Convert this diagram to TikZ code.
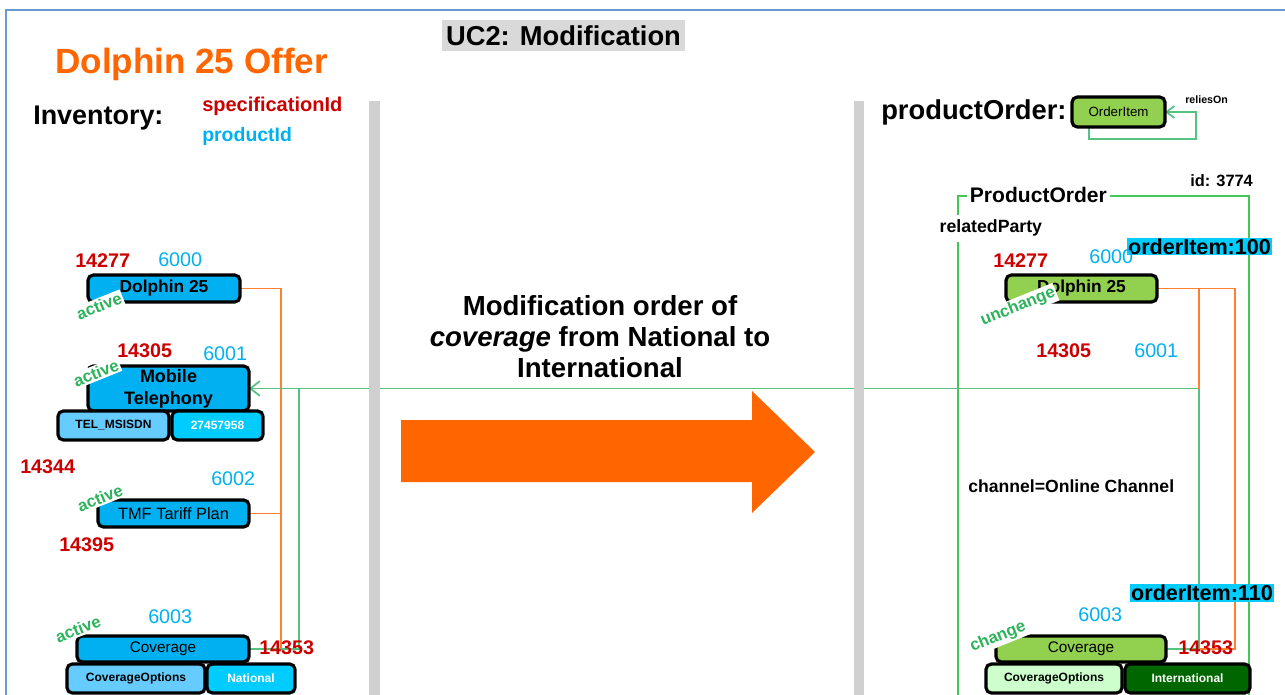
\documentclass[tikz,border=0pt]{standalone}
\usepackage{fontspec}
\setmainfont{Liberation Sans}
\usetikzlibrary{arrows.meta}
\definecolor{bordercol}{HTML}{6A98D2}
\definecolor{titlegray}{HTML}{D9D9D9}
\definecolor{offerorange}{HTML}{FF6600}
\definecolor{numred}{HTML}{CC0000}
\definecolor{numcyan}{HTML}{00B0F0}
\definecolor{boxblue}{HTML}{00B0F0}
\definecolor{lightblue}{HTML}{66CCFF}
\definecolor{brightcyan}{HTML}{00CCFF}
\definecolor{itemgreen}{HTML}{92D050}
\definecolor{palegreen}{HTML}{CCFFCC}
\definecolor{darkgreen}{HTML}{006600}
\definecolor{statgreen}{HTML}{2DB35C}
\definecolor{conngreen}{HTML}{55C280}
\definecolor{framegreen}{HTML}{44C755}
\definecolor{connorange}{HTML}{FF8030}
\definecolor{bargray}{HTML}{D0D0D0}
\newcommand\fsz[2]{\fontsize{#1}{#2}\selectfont}
\pgfdeclarelayer{bg}
\pgfsetlayers{bg,main}
\tikzset{
  box/.style={draw=black, line width=2.4pt, rounded corners=4pt, inner sep=1pt, outer sep=0pt, align=center},
  bluebox/.style={box, fill=boxblue},
  greenbox/.style={box, fill=itemgreen},
  lbl/.style={inner sep=0pt, anchor=base west},
  rednum/.style={lbl, font=\fsz{14.8pt}{17pt}\bfseries, text=numred},
  cyannum/.style={lbl, font=\fsz{14.8pt}{17pt}, text=numcyan},
  stat/.style={font=\fsz{12.5pt}{14pt}\bfseries, text=statgreen, fill=white, rotate=22, inner sep=1.2pt},
  oconn/.style={draw=connorange, line width=1pt},
  gconn/.style={draw=conngreen, line width=1.3pt},
  itemtag/.style={fill=brightcyan, inner xsep=1pt, inner ysep=0.6pt, font=\fsz{16.2pt}{18pt}\bfseries},
  small/.style={font=\fsz{9pt}{10pt}\bfseries}
}
\begin{document}
\begin{tikzpicture}[x=0.75pt,y=-0.75pt]
\useasboundingbox (0,0) rectangle (1285,695);
% outer frame
\draw[bordercol, line width=1.2pt] (6,700) -- (6,10) -- (1290,10);

% titles
\node[fill=titlegray, minimum width=182.25pt, minimum height=23.25pt, inner sep=0pt, font=\fsz{20.5pt}{24pt}\bfseries] (uc2) at (563.5,35.5) {UC2: Modification};
\node[lbl, text=offerorange, font=\fsz{26.3pt}{30pt}\bfseries] (offer) at (55,74) {Dolphin 25 Offer};
\node[lbl, font=\fsz{20.2pt}{24pt}\bfseries] (inv) at (33,125) {Inventory:};
\node[lbl, text=numred, font=\fsz{15pt}{17pt}\bfseries] (specid) at (202,112) {specificationId};
\node[lbl, text=numcyan, font=\fsz{14.6pt}{17pt}\bfseries] (prodid) at (202,142) {productId};
\node[lbl, font=\fsz{20.5pt}{24pt}\bfseries] (porder) at (881,120) {productOrder:};

% ---------- left inventory ----------
\node[bluebox, minimum width=114pt, minimum height=20.25pt, font=\fsz{13pt}{15pt}\bfseries] (d25L) at (164,288.5) {Dolphin 25};
\node[bluebox, minimum width=120.75pt, minimum height=33.75pt, font=\fsz{13.5pt}{16.5pt}\bfseries] (mobL) at (168.5,388.5) {Mobile\\Telephony};
\node[box, fill=lightblue, minimum width=83.25pt, minimum height=21.75pt, small] (telL) at (113.5,425.5) {TEL\_MSISDN};
\node[box, fill=brightcyan, text=white, minimum width=68.25pt, minimum height=21.75pt, small] (numL) at (217.5,425.5) {27457958};
\node[bluebox, minimum width=113.25pt, minimum height=20.25pt, font=\fsz{12.3pt}{14pt}] (tmfL) at (173.5,513.5) {TMF Tariff Plan};
\node[bluebox, minimum width=129pt, minimum height=19.5pt, font=\fsz{11.5pt}{13pt}] (covL) at (163,649) {Coverage};
\node[box, fill=lightblue, minimum width=103.5pt, minimum height=21.75pt, small] (coL) at (136,678.5) {CoverageOptions};
\node[box, fill=brightcyan, text=white, minimum width=66pt, minimum height=21.75pt, small] (natL) at (251,678.5) {National};

% ---------- right product order ----------
\node[greenbox, minimum width=69.75pt, minimum height=22.5pt, font=\fsz{10pt}{12pt}] (oi) at (1118.5,112) {OrderItem};
\node[greenbox, minimum width=113.25pt, minimum height=20.25pt, font=\fsz{13pt}{15pt}\bfseries] (d25R) at (1081.5,288.5) {Dolphin 25};
\node[greenbox, minimum width=127.5pt, minimum height=19.5pt, font=\fsz{11.5pt}{13pt}] (covR) at (1081,649) {Coverage};
\node[box, fill=palegreen, minimum width=102pt, minimum height=21.75pt, small] (coR) at (1054,678.5) {CoverageOptions};
\node[box, fill=darkgreen, text=white, minimum width=93.75pt, minimum height=21.75pt, small] (intR) at (1187.5,678.5) {International};

% ---------- connectors (background) ----------
\coordinate (jL) at (281,649);
\coordinate (gL) at (299,388.5);
\coordinate (jR) at (1199,388.5);
\coordinate (oR) at (1235,649);
\coordinate (lp1) at (1089,139);
\coordinate (lp2) at (1196,139);
\begin{pgfonlayer}{bg}
\draw[framegreen, line width=1.1pt] (958,700) -- (958,196) -- (1249,196) -- (1249,700);
\draw[oconn] (d25L.east) -| (jL) -- (covL.east);
\draw[oconn] (mobL.east) -- (mobL.east -| jL);
\draw[oconn] (tmfL.east) -- (tmfL.east -| jL);
\draw[gconn] (covL.east) -| (gL);
\draw[gconn, -{Straight Barb[length=7pt,width=11pt]}] (jR) -- (mobL.east);
\draw[oconn] (d25R.east) -| (oR) -- (covR.east);
\draw[oconn] (d25R.east -| jR) -- (jR);
\draw[gconn] (covR.east) -| (jR);
\draw[gconn, -{Straight Barb[length=6pt,width=9pt]}] (lp1 |- oi.south) -- (lp1) -- (lp2) |- (oi.east);
\end{pgfonlayer}

% separator bars
\fill[bargray] (369,101) rectangle (380,700);
\fill[bargray] (854,101) rectangle (864,700);

% middle
\node[font=\fsz{20.7pt}{23.25pt}\bfseries, align=center] (modtxt) at (600,337) {Modification order of\\\textit{coverage} from National to\\International};
\fill[offerorange] (401,420) -- (752,420) -- (752,391) -- (815,452) -- (752,513) -- (752,482) -- (401,482) -- cycle;

% ---------- left labels ----------
\node[rednum] (n14277L) at (75,268) {14277};
\node[cyannum] (n6000L) at (158,267) {6000};
\node[rednum] (n14305L) at (117,358) {14305};
\node[cyannum] (n6001L) at (203,360) {6001};
\node[rednum] (n14344) at (20,473) {14344};
\node[cyannum] (n6002L) at (211,485) {6002};
\node[rednum] (n14395) at (59,551) {14395};
\node[cyannum] (n6003L) at (148,623) {6003};
\node[rednum] (n14353L) at (259,654) {14353};
\node[stat] (stA) at (99,306) {active};
\node[stat] (stB) at (96,373) {active};
\node[stat] (stC) at (100,498) {active};
\node[stat] (stD) at (78,629) {active};

% ---------- right labels ----------
\node[lbl, font=\fsz{8pt}{9pt}\bfseries] (relies) at (1185,104) {reliesOn};
\node[lbl, font=\fsz{12.3pt}{14pt}\bfseries] (idno) at (1190,187) {id: 3774};
\node[lbl, fill=white, inner xsep=2pt, inner ysep=1pt, font=\fsz{15.8pt}{18pt}\bfseries] (potitle) at (967,203) {ProductOrder};
\node[lbl, fill=white, inner xsep=1pt, inner ysep=4pt, font=\fsz{13.3pt}{16pt}\bfseries] (relp) at (938,233) {relatedParty};
\node[itemtag] (oi100) at (1199.5,246.5) {orderItem:100};
\node[rednum] (n14277R) at (993,268) {14277};
\node[cyannum] (n6000R) at (1089,264) {6000};
\node[rednum] (n14305R) at (1036,358) {14305};
\node[cyannum] (n6001R) at (1134,357) {6001};
\node[lbl, font=\fsz{13.2pt}{16pt}\bfseries] (chan) at (968,492) {channel=Online Channel};
\node[itemtag] (oi110) at (1202,593) {orderItem:110};
\node[cyannum] (n6003R) at (1078,621) {6003};
\node[rednum] (n14353R) at (1178,654) {14353};
\node[stat] (stE) at (1018,307) {unchange};
\node[stat] (stF) at (998,637) {change};
\end{tikzpicture}
\end{document}
